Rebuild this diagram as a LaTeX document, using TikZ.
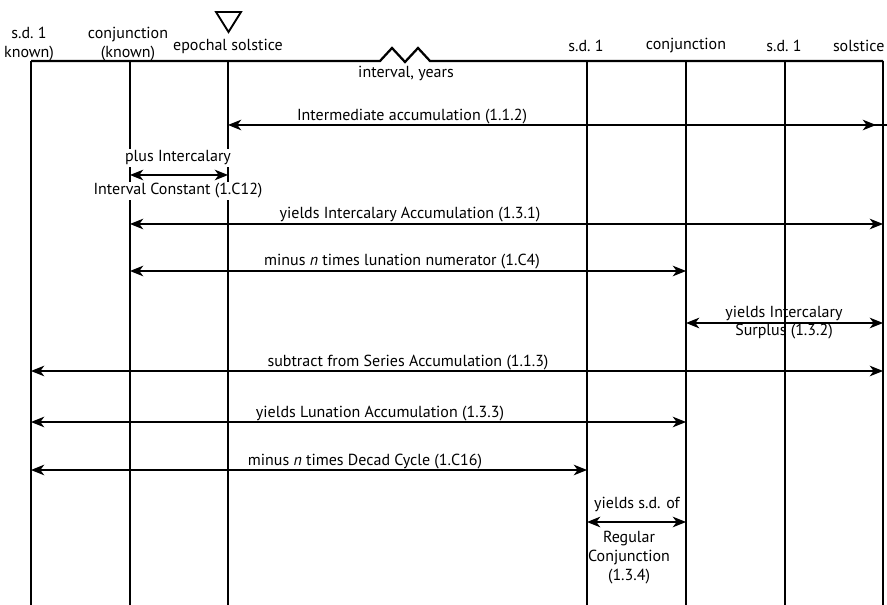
\documentclass[tikz,border=0pt]{standalone}
\usepackage{fontspec}
\setmainfont{PT Sans}
\usetikzlibrary{arrows.meta}

\tikzset{
  vline/.style={line width=1.7pt},
  dbl/.style={{Stealth[length=10pt,width=8pt,inset=3pt]}-{Stealth[length=10pt,width=8pt,inset=3pt]},line width=0.9pt},
  lab/.style={inner sep=1pt,font=\fontsize{12}{14.2}\selectfont,align=center},
  wlab/.style={lab,fill=white}
}

\begin{document}
\begin{tikzpicture}[x=0.75pt,y=-0.75pt]
\useasboundingbox (0,0) rectangle (887,605);
\coordinate (bot) at (0,605);
\coordinate (cA) at (31,61);
\coordinate (cB) at (130,61);
\coordinate (cC) at (228,61);
\coordinate (cD) at (587,61);
\coordinate (cE) at (686,61);
\coordinate (cF) at (785,61);
\coordinate (cG) at (883,61);
\foreach \c in {cA,cB,cC,cD,cE,cF,cG}
  \draw[vline] (\c)--(\c |- bot);
\draw[vline] (cA)--(380,61)--(392,48)--(405,62)--(418,48)--(430,61)--(cG);
\draw[line width=1.4pt] (216,12)--(241,12)--(228.5,32)--cycle;
% heads
\node[lab] (sdA) at (29,44) {s.d.~1\\known)};
\node[lab] (conjA) at (128,44) {conjunction\\(known)};
\node[lab] (epoch) at (228,46) {epochal solstice};
\node[lab] (ivl) at (406,73) {interval, years};
\node[lab] (sdB) at (586,46) {s.d.~1};
\node[lab] (conjB) at (686,46) {conjunction};
\node[lab] (sdC) at (784,46) {s.d.~1};
\node[lab,anchor=east] (solst) at (886,46) {solstice};
% arrows
\coordinate (tipI) at (876,125);
\draw[line width=0.9pt] (866,125)--(887,125);
\draw[dbl] (cC |- tipI)--(tipI);
\node[lab] (n1) at (412,117) {Intermediate accumulation (1.1.2)};
\draw[dbl] (cB |- 0,175)--(cC |- 0,175);
\node[wlab] (n2) at (178,158) {plus Intercalary};
\node[wlab] (n2b) at (178,191) {Interval Constant (1.C12)};
\draw[dbl] (cB |- 0,224)--(cG |- 0,224);
\node[lab] (n3) at (410,215) {yields Intercalary Accumulation (1.3.1)};
\draw[dbl] (cB |- 0,271)--(cE |- 0,271);
\node[lab] (n4) at (402,262) {minus \textit{n} times lunation numerator (1.C4)};
\draw[dbl] (cE |- 0,323)--(cG |- 0,323);
\node[lab,font=\fontsize{12}{13.5}\selectfont] (n5) at (784,323) {yields Intercalary\\Surplus (1.3.2)};
\draw[dbl] (cA |- 0,371)--(cG |- 0,371);
\node[lab] (n6) at (408,363) {subtract from Series Accumulation (1.1.3)};
\draw[dbl] (cA |- 0,422)--(cE |- 0,422);
\node[lab] (n7) at (380,414) {yields Lunation Accumulation (1.3.3)};
\draw[dbl] (cA |- 0,470)--(cD |- 0,470);
\node[lab] (n8) at (365,462) {minus \textit{n} times Decad Cycle (1.C16)};
\draw[dbl] (cD |- 0,522)--(cE |- 0,522);
\node[lab] (n9) at (637,504) {yields s.d. of};
\node[lab] (n9b) at (629,558) {Regular\\Conjunction\\(1.3.4)};
\end{tikzpicture}
\end{document}
